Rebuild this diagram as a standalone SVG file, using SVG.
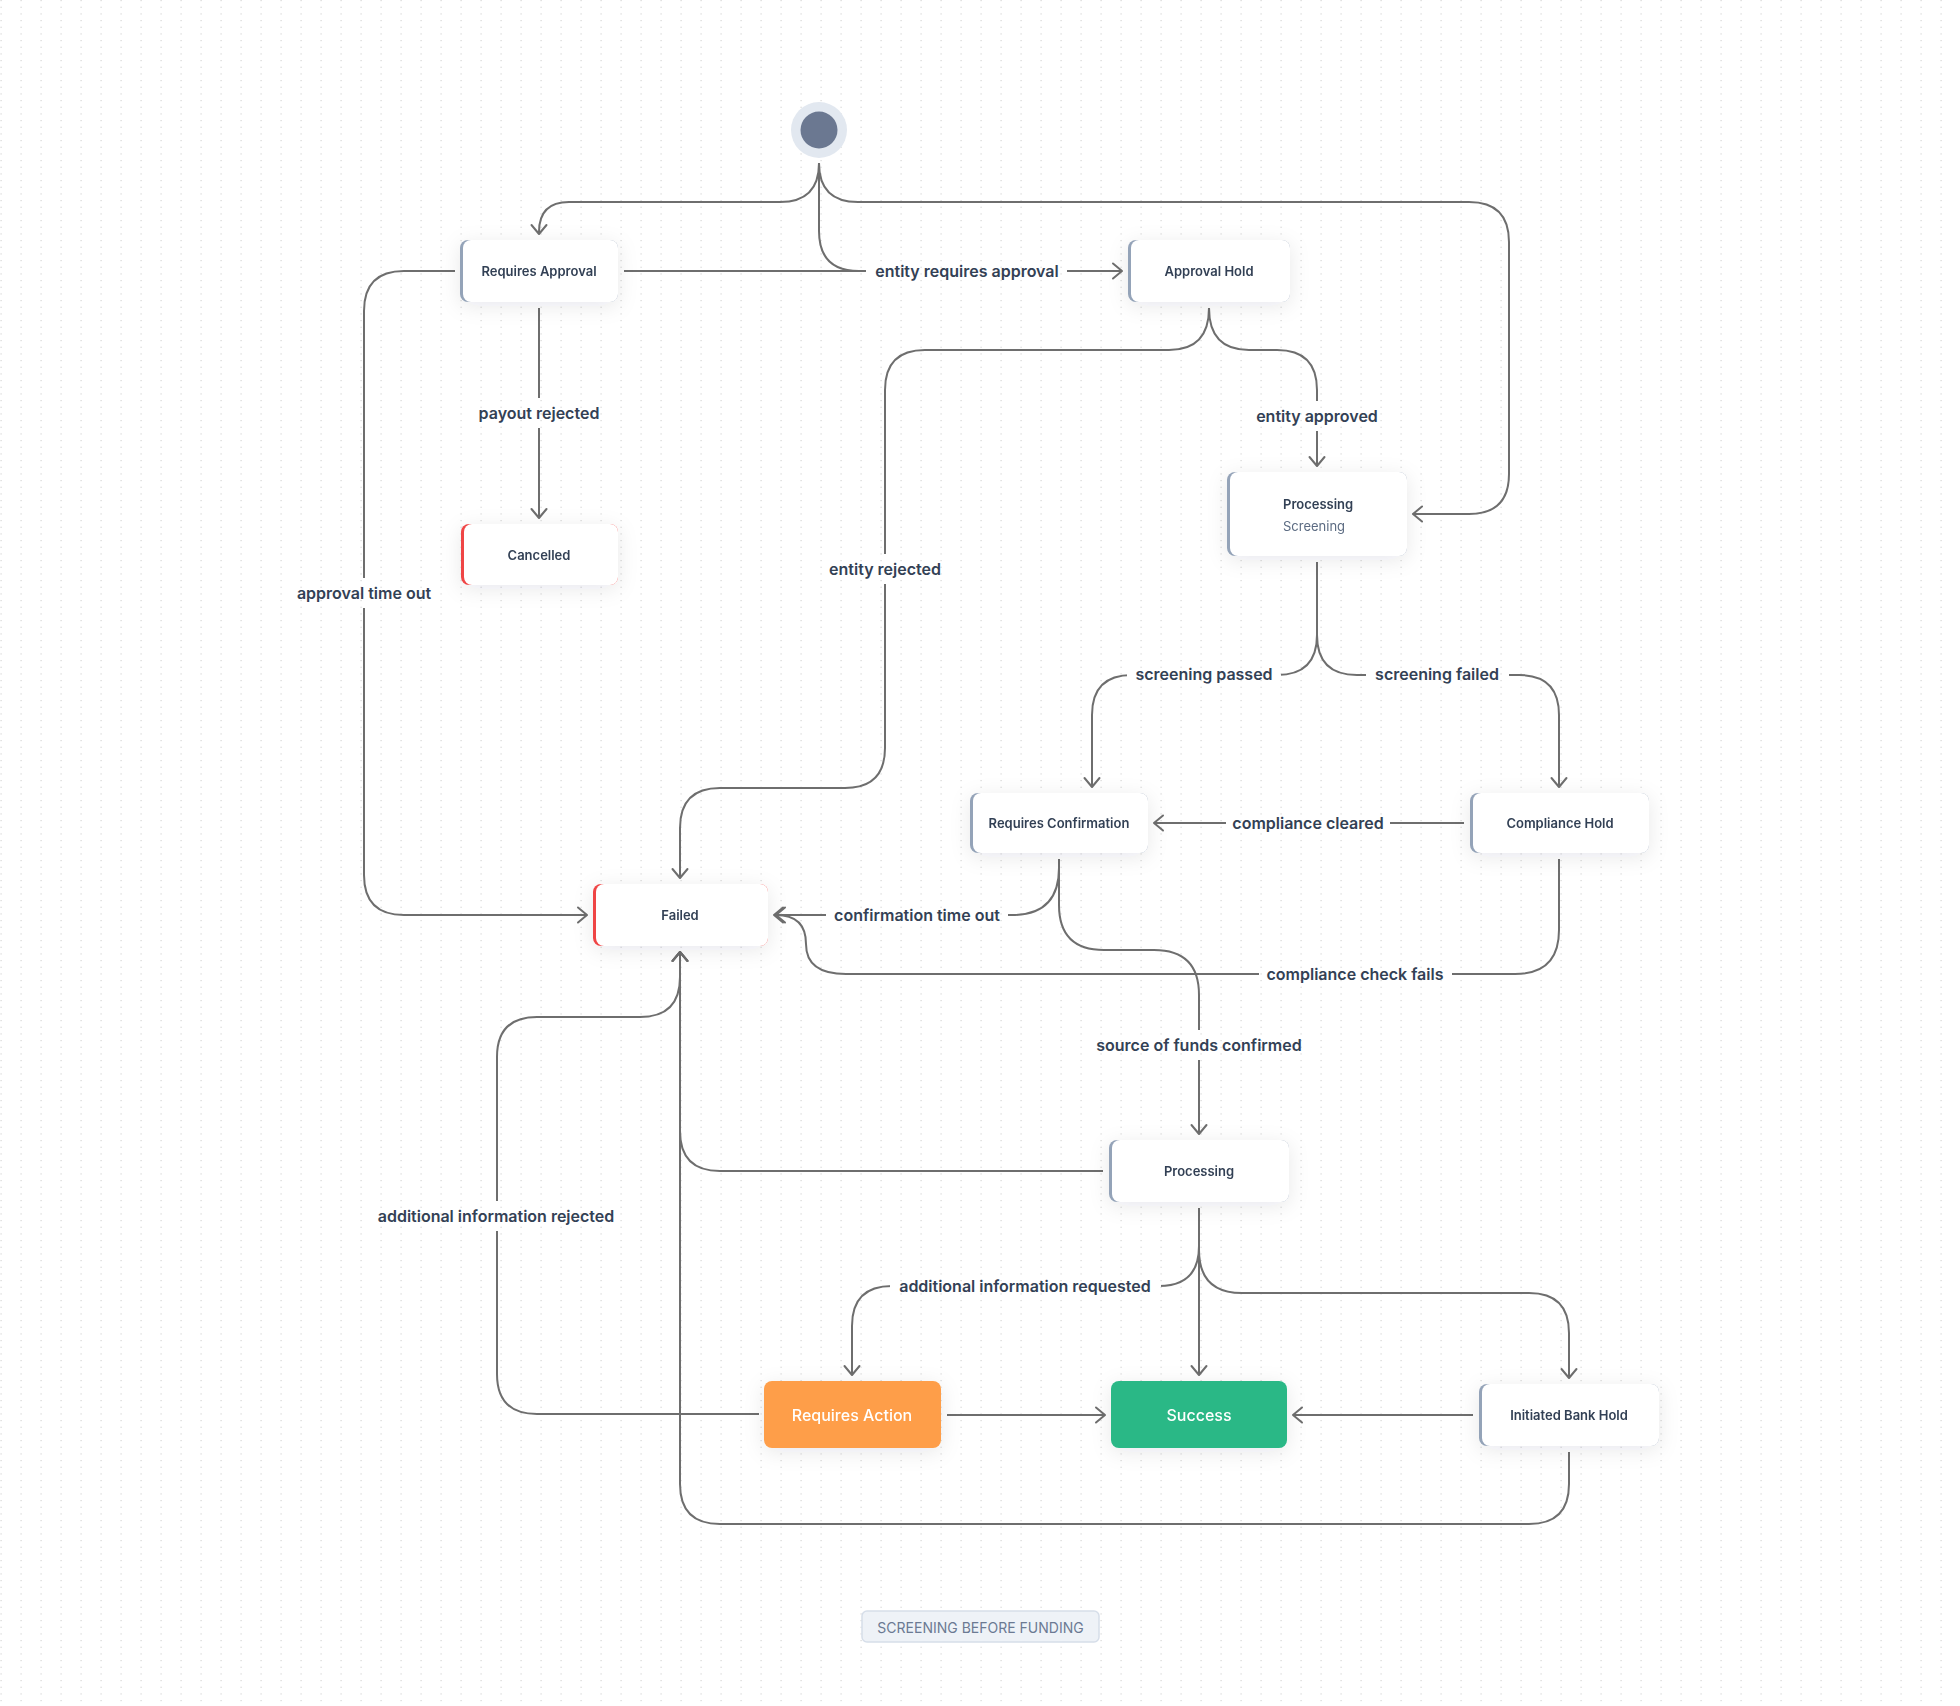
<svg xmlns="http://www.w3.org/2000/svg" width="1960" height="1706" viewBox="0 0 1960 1706">
  <defs>
    <pattern id="dots" x="0" y="0" width="20" height="20" patternUnits="userSpaceOnUse">
      <rect x="0.5" y="0" width="1.2" height="1.2" fill="#d6d6d6"/>
      <rect x="0.5" y="6.67" width="1.2" height="1.2" fill="#d6d6d6"/>
      <rect x="0.5" y="13.33" width="1.2" height="1.2" fill="#d6d6d6"/>
    </pattern>
    <filter id="shadow" x="-30%" y="-40%" width="160%" height="190%">
      <feDropShadow dx="0" dy="4" stdDeviation="10" flood-color="#0f172a" flood-opacity="0.09"/>
    </filter>
    <marker id="arrow" markerUnits="userSpaceOnUse" markerWidth="24" markerHeight="24" viewBox="-12 -12 24 24" refX="0" refY="0" orient="auto">
      <path d="M-9,-7.5 L0,0 L-9,7.5" fill="none" stroke="#6e6e6e" stroke-width="2" stroke-linecap="round" stroke-linejoin="round"/>
    </marker>
    <mask id="labelGaps" maskUnits="userSpaceOnUse" x="0" y="0" width="1960" height="1706">
      <rect x="0" y="0" width="1960" height="1706" fill="#fff"/>
      <rect x="866" y="256" width="201" height="30" fill="#000"/>
      <rect x="474" y="398" width="130" height="30" fill="#000"/>
      <rect x="290" y="578" width="148" height="30" fill="#000"/>
      <rect x="1252" y="401" width="130" height="30" fill="#000"/>
      <rect x="822" y="554" width="126" height="30" fill="#000"/>
      <rect x="1127" y="660" width="154" height="30" fill="#000"/>
      <rect x="1366" y="660" width="143" height="30" fill="#000"/>
      <rect x="1226" y="808" width="164" height="30" fill="#000"/>
      <rect x="826" y="900" width="182" height="30" fill="#000"/>
      <rect x="1092" y="1030" width="214" height="30" fill="#000"/>
      <rect x="1259" y="959" width="193" height="30" fill="#000"/>
      <rect x="890" y="1271" width="271" height="30" fill="#000"/>
      <rect x="371" y="1201" width="250" height="30" fill="#000"/>
    </mask>
    <style>
      .edge { fill: none; stroke: #6e6e6e; stroke-width: 2; }
      .arr { marker-end: url(#arrow); }
      .lbl { font-family: Inter, "Noto Sans", "Liberation Sans", sans-serif; font-size: 16px; font-weight: 600; fill: #334155; text-anchor: middle; dominant-baseline: central; }
      .ntext { font-family: Inter, "Noto Sans", "Liberation Sans", sans-serif; font-size: 13px; font-weight: 600; fill: #334155; text-anchor: middle; dominant-baseline: central; }
      .sub { font-family: Inter, "Noto Sans", "Liberation Sans", sans-serif; font-size: 13px; font-weight: 400; fill: #5b6b82; dominant-baseline: central; }
      .wtext { font-family: Inter, "Noto Sans", "Liberation Sans", sans-serif; font-size: 16px; font-weight: 500; fill: #ffffff; text-anchor: middle; dominant-baseline: central; }
      .card { fill: #ffffff; }
      .accent { fill: #94a3b8; }
      .accent-red { fill: #ef4444; }
      .node { filter: url(#shadow); }
    </style>
  </defs>

  <rect x="0" y="0" width="1960" height="1706" fill="#ffffff"/>
  <rect x="0" y="0" width="1960" height="1706" fill="url(#dots)"/>

  <g id="connectors" mask="url(#labelGaps)">
    <path class="edge arr" d="M819,163 Q819,202 780,202 L569,202 Q539,202 539,232 L539,234"/>
    <path class="edge arr" d="M819,163 Q819,202 858,202 L1469,202 Q1509,202 1509,242 L1509,474 Q1509,514 1469,514 L1413,514"/>
    <path class="edge arr" d="M819,163 L819,231 Q819,271 859,271 L1122,271"/>
    <path class="edge" d="M624,271 L870,271"/>
    <path class="edge arr" d="M539,308 L539,518"/>
    <path class="edge arr" d="M455,271 L404,271 Q364,271 364,311 L364,875 Q364,915 404,915 L587,915"/>
    <path class="edge arr" d="M1209,308 Q1209,350 1249,350 L1277,350 Q1317,350 1317,390 L1317,466"/>
    <path class="edge arr" d="M1209,308 Q1209,350 1169,350 L925,350 Q885,350 885,390 L885,748 Q885,788 845,788 L720,788 Q680,788 680,828 L680,878"/>
    <path class="edge arr" d="M1317,562 L1317,635 Q1317,675 1277,675 L1132,675 Q1092,675 1092,715 L1092,787"/>
    <path class="edge arr" d="M1317,562 L1317,635 Q1317,675 1357,675 L1519,675 Q1559,675 1559,715 L1559,787"/>
    <path class="edge arr" d="M1464,823 L1154,823"/>
    <path class="edge arr" d="M1059,859 L1059,868 Q1059,915 1012,915 L774,915"/>
    <path class="edge arr" d="M1059,859 L1059,905 Q1059,950 1104,950 L1154,950 Q1199,950 1199,995 L1199,1134"/>
    <path class="edge arr" d="M1559,859 L1559,930 Q1559,974 1515,974 L846,974 Q806,974 806,944 Q806,915 776,915"/>
    <path class="edge arr" d="M1103,1171 L720,1171 Q680,1171 680,1131 L680,952"/>
    <path class="edge arr" d="M1199,1208 L1199,1246 Q1199,1286 1159,1286 L892,1286 Q852,1286 852,1326 L852,1375"/>
    <path class="edge arr" d="M1199,1208 L1199,1375"/>
    <path class="edge arr" d="M1199,1208 L1199,1250 Q1199,1293 1242,1293 L1529,1293 Q1569,1293 1569,1333 L1569,1378"/>
    <path class="edge arr" d="M947,1415 L1105,1415"/>
    <path class="edge arr" d="M1473,1415 L1293,1415"/>
    <path class="edge arr" d="M759,1414 L537,1414 Q497,1414 497,1374 L497,1057 Q497,1017 537,1017 L640,1017 Q680,1017 680,977 L680,952"/>
    <path class="edge arr" d="M1569,1452 L1569,1484 Q1569,1524 1529,1524 L720,1524 Q680,1524 680,1484 L680,952"/>
  </g>

  <g id="edge-labels">
    <text class="lbl" x="967" y="271">entity requires approval</text>
    <text class="lbl" x="539" y="413">payout rejected</text>
    <text class="lbl" x="364" y="593">approval time out</text>
    <text class="lbl" x="1317" y="416">entity approved</text>
    <text class="lbl" x="885" y="569">entity rejected</text>
    <text class="lbl" x="1204" y="674">screening passed</text>
    <text class="lbl" x="1437" y="674">screening failed</text>
    <text class="lbl" x="1308" y="823">compliance cleared</text>
    <text class="lbl" x="917" y="915">confirmation time out</text>
    <text class="lbl" x="1199" y="1045">source of funds confirmed</text>
    <text class="lbl" x="1355" y="974">compliance check fails</text>
    <text class="lbl" x="1025" y="1286">additional information requested</text>
    <text class="lbl" x="496" y="1216">additional information rejected</text>
  </g>

  <g id="start">
    <circle cx="819" cy="130" r="28" fill="#e2e8f0"/>
    <circle cx="819" cy="130" r="18.5" fill="#6b7891"/>
  </g>

  <g id="node-requires-approval" class="node">
    <rect class="accent" x="460" y="240" width="158" height="62" rx="8"/>
    <rect class="card" x="463" y="240" width="155" height="62" rx="8"/>
    <text class="ntext" x="539" y="271">Requires Approval</text>
  </g>

  <g id="node-approval-hold" class="node">
    <rect class="accent" x="1128" y="240" width="162" height="62" rx="8"/>
    <rect class="card" x="1131" y="240" width="159" height="62" rx="8"/>
    <text class="ntext" x="1209" y="271">Approval Hold</text>
  </g>

  <g id="node-processing-screening" class="node">
    <rect class="accent" x="1227" y="472" width="180" height="84" rx="8"/>
    <rect class="card" x="1230" y="472" width="177" height="84" rx="8"/>
    <text class="ntext" x="1283" y="504" style="text-anchor:start">Processing</text>
    <text class="sub" x="1283" y="526">Screening</text>
  </g>

  <g id="node-cancelled" class="node">
    <rect class="accent-red" x="461" y="524" width="157" height="61" rx="8"/>
    <rect class="card" x="464" y="524" width="154" height="61" rx="8"/>
    <text class="ntext" x="539" y="555">Cancelled</text>
  </g>

  <g id="node-requires-confirmation" class="node">
    <rect class="accent" x="970" y="793" width="178" height="60" rx="8"/>
    <rect class="card" x="973" y="793" width="175" height="60" rx="8"/>
    <text class="ntext" x="1059" y="823">Requires Confirmation</text>
  </g>

  <g id="node-compliance-hold" class="node">
    <rect class="accent" x="1470" y="793" width="179" height="60" rx="8"/>
    <rect class="card" x="1473" y="793" width="176" height="60" rx="8"/>
    <text class="ntext" x="1560" y="823">Compliance Hold</text>
  </g>

  <g id="node-failed" class="node">
    <rect class="accent-red" x="593" y="884" width="175" height="62" rx="8"/>
    <rect class="card" x="596" y="884" width="172" height="62" rx="8"/>
    <text class="ntext" x="680" y="915">Failed</text>
  </g>

  <g id="node-processing" class="node">
    <rect class="accent" x="1109" y="1140" width="180" height="62" rx="8"/>
    <rect class="card" x="1112" y="1140" width="177" height="62" rx="8"/>
    <text class="ntext" x="1199" y="1171">Processing</text>
  </g>

  <g id="node-requires-action" class="node">
    <rect x="764" y="1381" width="177" height="67" rx="8" fill="#fe9e48"/>
    <text class="wtext" x="852" y="1415">Requires Action</text>
  </g>

  <g id="node-success" class="node">
    <rect x="1111" y="1381" width="176" height="67" rx="8" fill="#29b886"/>
    <text class="wtext" x="1199" y="1415">Success</text>
  </g>

  <g id="node-initiated-bank-hold" class="node">
    <rect class="accent" x="1479" y="1384" width="180" height="62" rx="8"/>
    <rect class="card" x="1482" y="1384" width="177" height="62" rx="8"/>
    <text class="ntext" x="1569" y="1415">Initiated Bank Hold</text>
  </g>

  <g id="caption">
    <rect x="862" y="1611" width="237" height="31" rx="5" fill="#eef2f7" stroke="#d6dee9" stroke-width="1.5"/>
    <text x="980.5" y="1627" font-family="Inter, 'Noto Sans', 'Liberation Sans', sans-serif" font-size="14" fill="#6b7a93" text-anchor="middle" dominant-baseline="central">SCREENING BEFORE FUNDING</text>
  </g>
</svg>
